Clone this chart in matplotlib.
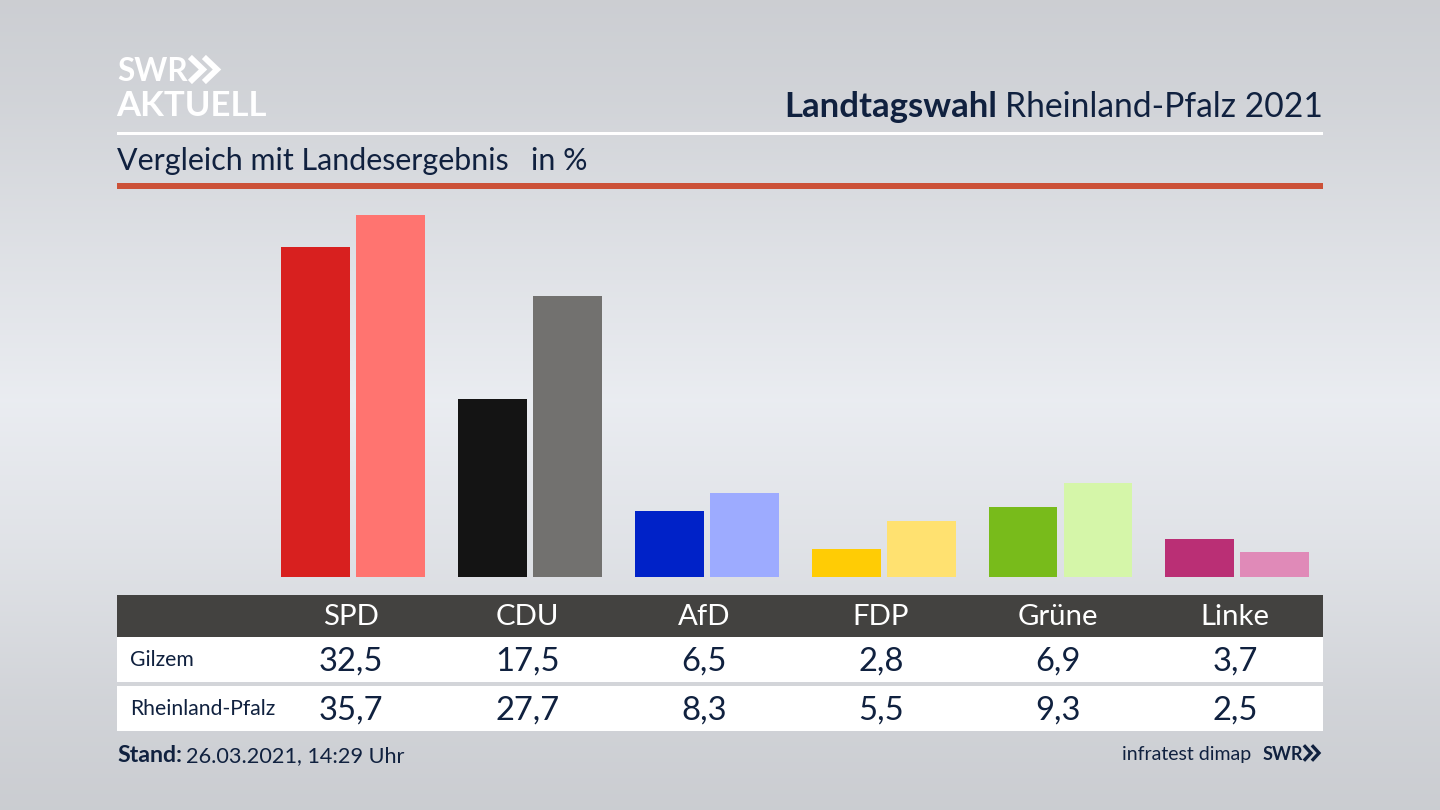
import numpy as np
import matplotlib
matplotlib.use("Agg")
import matplotlib.pyplot as plt
from matplotlib.patches import Rectangle
from matplotlib.lines import Line2D

parties = ["SPD", "CDU", "AfD", "FDP", "Grüne", "Linke"]
gilzem = [32.5, 17.5, 6.5, 2.8, 6.9, 3.7]
rlp = [35.7, 27.7, 8.3, 5.5, 9.3, 2.5]
gilzem_labels = ["32,5", "17,5", "6,5", "2,8", "6,9", "3,7"]
rlp_labels = ["35,7", "27,7", "8,3", "5,5", "9,3", "2,5"]
colors_a = ["#d8201f", "#141414", "#0022c8", "#ffcc05", "#78bb1b", "#ba2f75"]
colors_b = ["#ff7470", "#72716f", "#9dabff", "#ffe170", "#d5f6a9", "#e08ab8"]

NAVY = "#10213f"
plt.rcParams["font.family"] = ["Lato", "DejaVu Sans"]
W, H = 1440, 810
fig = plt.figure(figsize=(W / 100, H / 100), dpi=100)

# page layer in pixel coordinates
bg = fig.add_axes([0, 0, 1, 1], zorder=0)
bg.set_xlim(0, W)
bg.set_ylim(H, 0)
bg.axis("off")
stops_y = [0, 100, 250, 400, 550, 700, 810]
stops_v = [0.800, 0.822, 0.872, 0.918, 0.878, 0.822, 0.795]
grad = np.interp(np.arange(H), stops_y, stops_v)
rgb = np.stack([grad, grad * 1.006 + 0.004, grad * 1.015 + 0.014], axis=1).clip(0, 1)
bg.imshow(rgb[:, None, :], extent=[0, W, H, 0], aspect="auto", zorder=0)


def rect(x0, y0, x1, y1, color, z=1):
    bg.add_patch(Rectangle((x0, y0), x1 - x0, y1 - y0, fc=color, ec="none", zorder=z))


def label(x, y, s, size, color=NAVY, ha="left", weight="normal"):
    bg.text(x, y, s, color=color, fontsize=size, ha=ha, va="baseline", fontweight=weight)


# header
label(117, 81, "SWR", 22.7, "white", weight="bold")
for off in (0, 14):
    bg.add_line(Line2D([192 + off, 203 + off, 192 + off], [59, 69.5, 80], color="white", lw=4.2,
                       solid_joinstyle="miter", zorder=2))
label(116, 116, "AKTUELL", 25, "white", weight="bold")
label(1323, 117, "Rheinland-Pfalz 2021", 24.2, ha="right")
label(997, 117, "Landtagswahl", 25, ha="right", weight="bold")
rect(117, 132, 1323, 135, "white")
label(117, 170, "Vergleich mit Landesergebnis", 21.9)
label(531, 170, "in %", 21.9)
rect(117, 183, 1323, 189, "#cc5138")

# table
rect(117, 595, 1323, 637, "#434240")
rect(117, 637, 1323, 682, "white")
rect(117, 686, 1323, 731, "white")
centers_px = [351, 527.5, 704, 881, 1058, 1235]
for cx, p, a, b in zip(centers_px, parties, gilzem_labels, rlp_labels):
    label(cx, 625, p, 21.2, "white", ha="center")
    label(cx, 671, a, 23.6, ha="center")
    label(cx, 720, b, 23.6, ha="center")
label(130, 666, "Gilzem", 15.2)
label(130, 715, "Rheinland-Pfalz", 15.2)

# footer
label(117, 762, "Stand:", 16.7, weight="bold")
label(186, 762, "26.03.2021, 14:29 Uhr", 15.6)
label(1251, 760, "infratest dimap", 14, ha="right")
label(1263, 760, "SWR", 13, weight="bold")
for off in (0, 8):
    bg.add_line(Line2D([1305 + off, 1311 + off, 1305 + off], [746.5, 753, 759.5], color=NAVY, lw=2.4,
                       solid_joinstyle="miter", zorder=2))

# bars: category axis with 176.8 px per party, value axis with 10.15 px per percent
ax_left, ax_right, ax_top, ax_bottom = 117, 1323, 195, 577
ax = fig.add_axes([ax_left / W, 1 - ax_bottom / H, (ax_right - ax_left) / W, (ax_bottom - ax_top) / H], zorder=1)
ax.patch.set_alpha(0)
ax.axis("off")
step = 176.8
ax.set_xlim((ax_left - 353.3) / step, (ax_right - 353.3) / step)
ax.set_ylim(0, (ax_bottom - ax_top) / 10.15)
x = np.arange(len(parties))
ax.bar(x - 0.212, gilzem, width=0.39, color=colors_a)
ax.bar(x + 0.212, rlp, width=0.39, color=colors_b)

fig.savefig("out.png", dpi=100)
